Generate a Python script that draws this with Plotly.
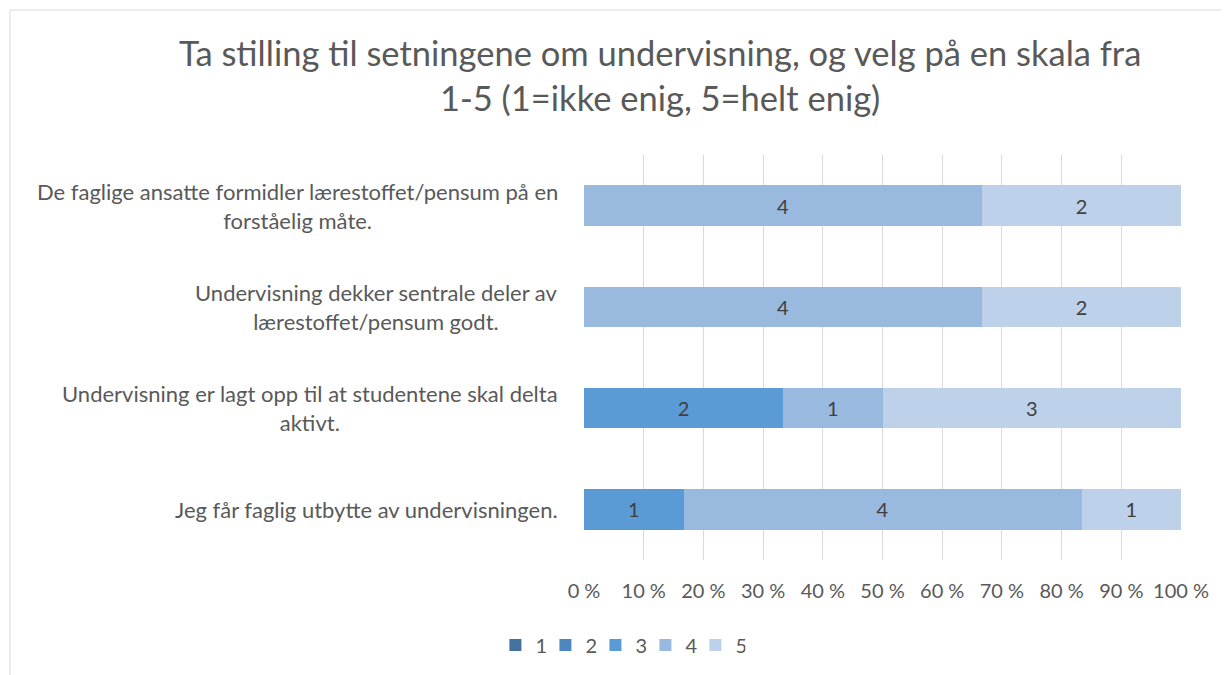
import plotly.graph_objects as go

categories = [
    "Jeg får faglig utbytte av undervisningen.",
    "Undervisning er lagt opp til at studentene skal delta<br>aktivt.",
    "Undervisning dekker sentrale deler av<br>lærestoffet/pensum godt.",
    "De faglige ansatte formidler lærestoffet/pensum på en<br>forståelig måte.",
]
series_names = ["1", "2", "3", "4", "5"]
s1 = [0, 0, 0, 0]
s2 = [0, 0, 0, 0]
s3 = [1, 2, 0, 0]
s4 = [4, 1, 4, 4]
s5 = [1, 3, 2, 2]
series_values = [s1, s2, s3, s4, s5]
colors = ["#44729E", "#4E87C0", "#5B9BD5", "#9AB9DF", "#BDD1EA"]
tick_vals = [0, 10, 20, 30, 40, 50, 60, 70, 80, 90, 100]
tick_text = ["0 %", "10 %", "20 %", "30 %", "40 %", "50 %", "60 %", "70 %", "80 %", "90 %", "100 %"]
title_text = "Ta stilling til setningene om undervisning, og velg på en skala fra<br>1-5 (1=ikke enig, 5=helt enig)"

FONT = "Lato"
GREY = "#595959"
FS = 20

fig = go.Figure()
for name, vals, col in zip(series_names, series_values, colors):
    fig.add_trace(go.Bar(
        y=categories, x=vals, name=name, orientation="h",
        marker=dict(color=col, line=dict(width=0)),
        text=[str(v) if v else "" for v in vals],
        textposition="inside", insidetextanchor="middle",
        textfont=dict(family=FONT, size=FS, color="#404040"),
        hoverinfo="x+name",
    ))

annotations = []
for c in categories:
    annotations.append(dict(
        x=-0.04, xref="paper", y=c, yref="y", text=c, showarrow=False,
        xanchor="right", yanchor="middle", align="center",
        font=dict(family=FONT, size=22, color=GREY),
    ))
annotations.append(dict(
    x=0.127, xref="paper", y=1.197, yref="paper", text=title_text, showarrow=False,
    xanchor="center", yanchor="middle", align="center",
    font=dict(family=FONT, size=34.5, color=GREY),
))

fig.update_layout(
    width=1229, height=675,
    barmode="stack", barnorm="percent", bargap=0.6,
    paper_bgcolor="white", plot_bgcolor="white",
    margin=dict(l=576, r=56, t=147, b=123),
    xaxis=dict(
        range=[0, 100], tickvals=tick_vals, ticktext=tick_text,
        showgrid=True, gridcolor="#D9D9D9", gridwidth=1,
        zeroline=False, showline=False, ticks="",
        tickfont=dict(family=FONT, size=FS, color=GREY),
        ticklabelstandoff=17,
        fixedrange=True,
    ),
    yaxis=dict(
        categoryorder="array", categoryarray=categories,
        showticklabels=False, showgrid=False, zeroline=False, showline=False,
        fixedrange=True,
    ),
    legend=dict(
        orientation="h", x=0.061, xanchor="center", y=-0.21, yanchor="middle",
        font=dict(family=FONT, size=FS, color=GREY),
        traceorder="normal", itemwidth=30,
        entrywidth=5, entrywidthmode="pixels",
    ),
    annotations=annotations,
    shapes=[
        dict(type="line", xref="paper", yref="paper", x0=-0.9615, x1=1.2, y0=1.358, y1=1.358,
             line=dict(color="#D9D9D9", width=1)),
        dict(type="line", xref="paper", yref="paper", x0=-0.9615, x1=-0.9615, y0=1.358, y1=-0.4,
             line=dict(color="#D9D9D9", width=1)),
    ],
)

fig.write_html("out.html")
